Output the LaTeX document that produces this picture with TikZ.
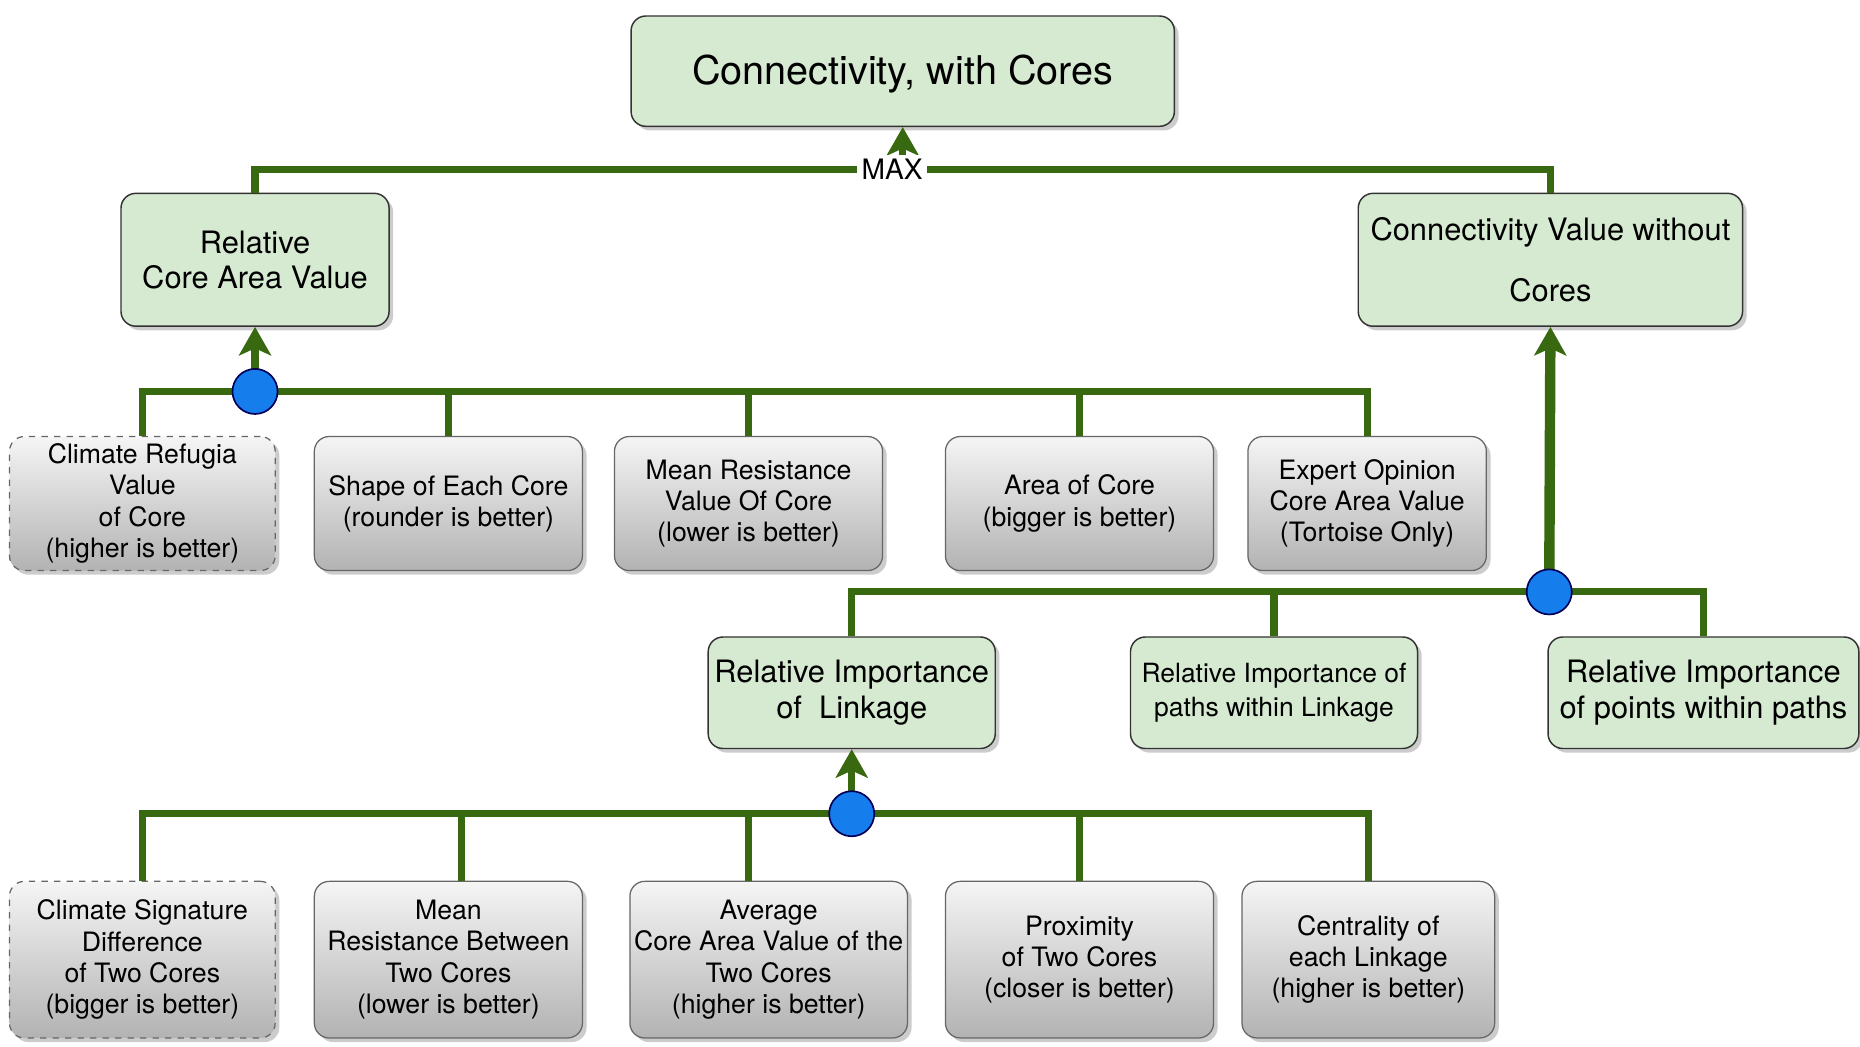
\documentclass[tikz,border=0pt]{standalone}
\usepackage{fontspec}
\setmainfont{TeX Gyre Heros}
\usepackage{tikz}
\usetikzlibrary{arrows.meta,shadows}
\usepackage{xcolor}
\definecolor{linkgreen}{RGB}{56,104,16}
\definecolor{boxgreen}{RGB}{214,234,210}
\definecolor{dotblue}{RGB}{22,126,236}

\begin{document}
\begin{tikzpicture}[>={Stealth[length=4.8mm,width=5.4mm,inset=1.2mm]},
  goal/.style={draw=black!80,line width=0.7pt,rounded corners=2.5mm,fill=boxgreen,align=center,inner sep=2pt,
    font=\fontsize{14.8}{17}\selectfont,drop shadow={shadow xshift=0.7mm,shadow yshift=-0.7mm,opacity=0.4}},
  crit/.style={draw=black!60,line width=0.6pt,rounded corners=2.5mm,top color=black!4,bottom color=black!30,align=center,
    inner sep=2pt,minimum width=4.52cm,font=\fontsize{12.8}{15}\selectfont,drop shadow={shadow xshift=0.7mm,shadow yshift=-0.7mm,opacity=0.4}},
  opt/.style={crit,dashed,draw=black!60},
  link/.style={draw=linkgreen,line width=3.4pt},
  joindot/.style={circle,draw=blue!35!black,fill=dotblue,line width=0.8pt,minimum size=7.6mm,inner sep=0pt}]
\useasboundingbox (0,0) rectangle (31.36,17.64);

% goals
\node[goal,minimum width=9.16cm,minimum height=1.86cm,text height=0.58cm,font=\fontsize{19}{22}\selectfont] (top) at (15.22,16.44) {Connectivity, with Cores};
\node[goal,minimum width=4.52cm,minimum height=2.24cm] (area) at (4.30,13.26) {Relative\\Core Area Value};
\node[goal,minimum width=6.48cm,minimum height=2.24cm] (nocore) at (26.14,13.26) {Connectivity Value without\\[12.5pt]Cores};

% core criteria
\node[opt,minimum width=4.48cm,minimum height=2.26cm] (refugia) at (2.40,9.15) {Climate Refugia\\Value\\of Core\\(higher is better)};
\node[crit,minimum height=2.26cm] (shape) at (7.56,9.15) {Shape of Each Core\\(rounder is better)};
\node[crit,minimum height=2.26cm] (meanres) at (12.62,9.15) {Mean Resistance\\Value Of Core\\(lower is better)};
\node[crit,minimum height=2.26cm] (size) at (18.20,9.15) {Area of Core\\(bigger is better)};
\node[crit,minimum width=4.02cm,minimum height=2.26cm] (expert) at (23.05,9.15) {Expert Opinion\\Core Area Value\\(Tortoise Only)};

% linkage goals
\node[goal,minimum width=4.84cm,minimum height=1.88cm] (linkage) at (14.36,5.96) {Relative Importance\\of\ \ Linkage};
\node[goal,minimum width=4.84cm,minimum height=1.88cm,font=\fontsize{12.7}{16.5}\selectfont] (paths) at (21.48,5.96) {Relative Importance of\\paths within Linkage};
\node[goal,minimum width=5.24cm,minimum height=1.88cm] (points) at (28.72,5.96) {Relative Importance\\of points within paths};

% linkage criteria
\node[opt,minimum width=4.48cm,minimum height=2.64cm] (climsig) at (2.40,1.46) {Climate Signature\\Difference\\of Two Cores\\(bigger is better)};
\node[crit,minimum height=2.64cm] (meanbtw) at (7.56,1.46) {Mean\\Resistance Between\\Two Cores\\(lower is better)};
\node[crit,minimum width=4.68cm,minimum height=2.64cm] (avg) at (12.96,1.46) {Average\\Core Area Value of the\\Two Cores\\(higher is better)};
\node[crit,minimum height=2.64cm] (prox) at (18.20,1.46) {Proximity\\of Two Cores\\(closer is better)};
\node[crit,minimum width=4.26cm,minimum height=2.64cm] (central) at (23.07,1.46) {Centrality of\\each Linkage\\(higher is better)};

% connectors
\coordinate (maxpt) at (15.22,14.78);
\coordinate (j1) at (4.30,11.04);
\coordinate (j2) at (26.12,7.66);
\coordinate (j3) at (14.36,3.92);

\draw[link] (area.north) |- (maxpt) -| (nocore.north);
\draw[link,->] (maxpt) -- (top.south);
\node[fill=white,inner sep=2pt,font=\fontsize{13.5}{15}\selectfont] (maxlbl) at (15.04,14.78) {MAX};

\foreach \n in {refugia,shape,meanres,size,expert} \draw[link] (\n.north) |- (j1);
\draw[link,->] (j1) -- (area.south);

\foreach \n in {linkage,paths,points} \draw[link] (\n.north) |- (j2);
\draw[link,line width=5pt,->] (j2) -- (nocore.south);

\draw[link] (climsig.north) |- (j3);
\draw[link] ([xshift=2.2mm]meanbtw.north) |- (j3);
\draw[link] ([xshift=-3.4mm]avg.north) |- (j3);
\draw[link] (prox.north) |- (j3);
\draw[link] (central.north) |- (j3);
\draw[link,->] (j3) -- (linkage.south);

\node[joindot] (dot1) at (j1) {};
\node[joindot] (dot2) at (j2) {};
\node[joindot] (dot3) at (j3) {};
\end{tikzpicture}
\end{document}
